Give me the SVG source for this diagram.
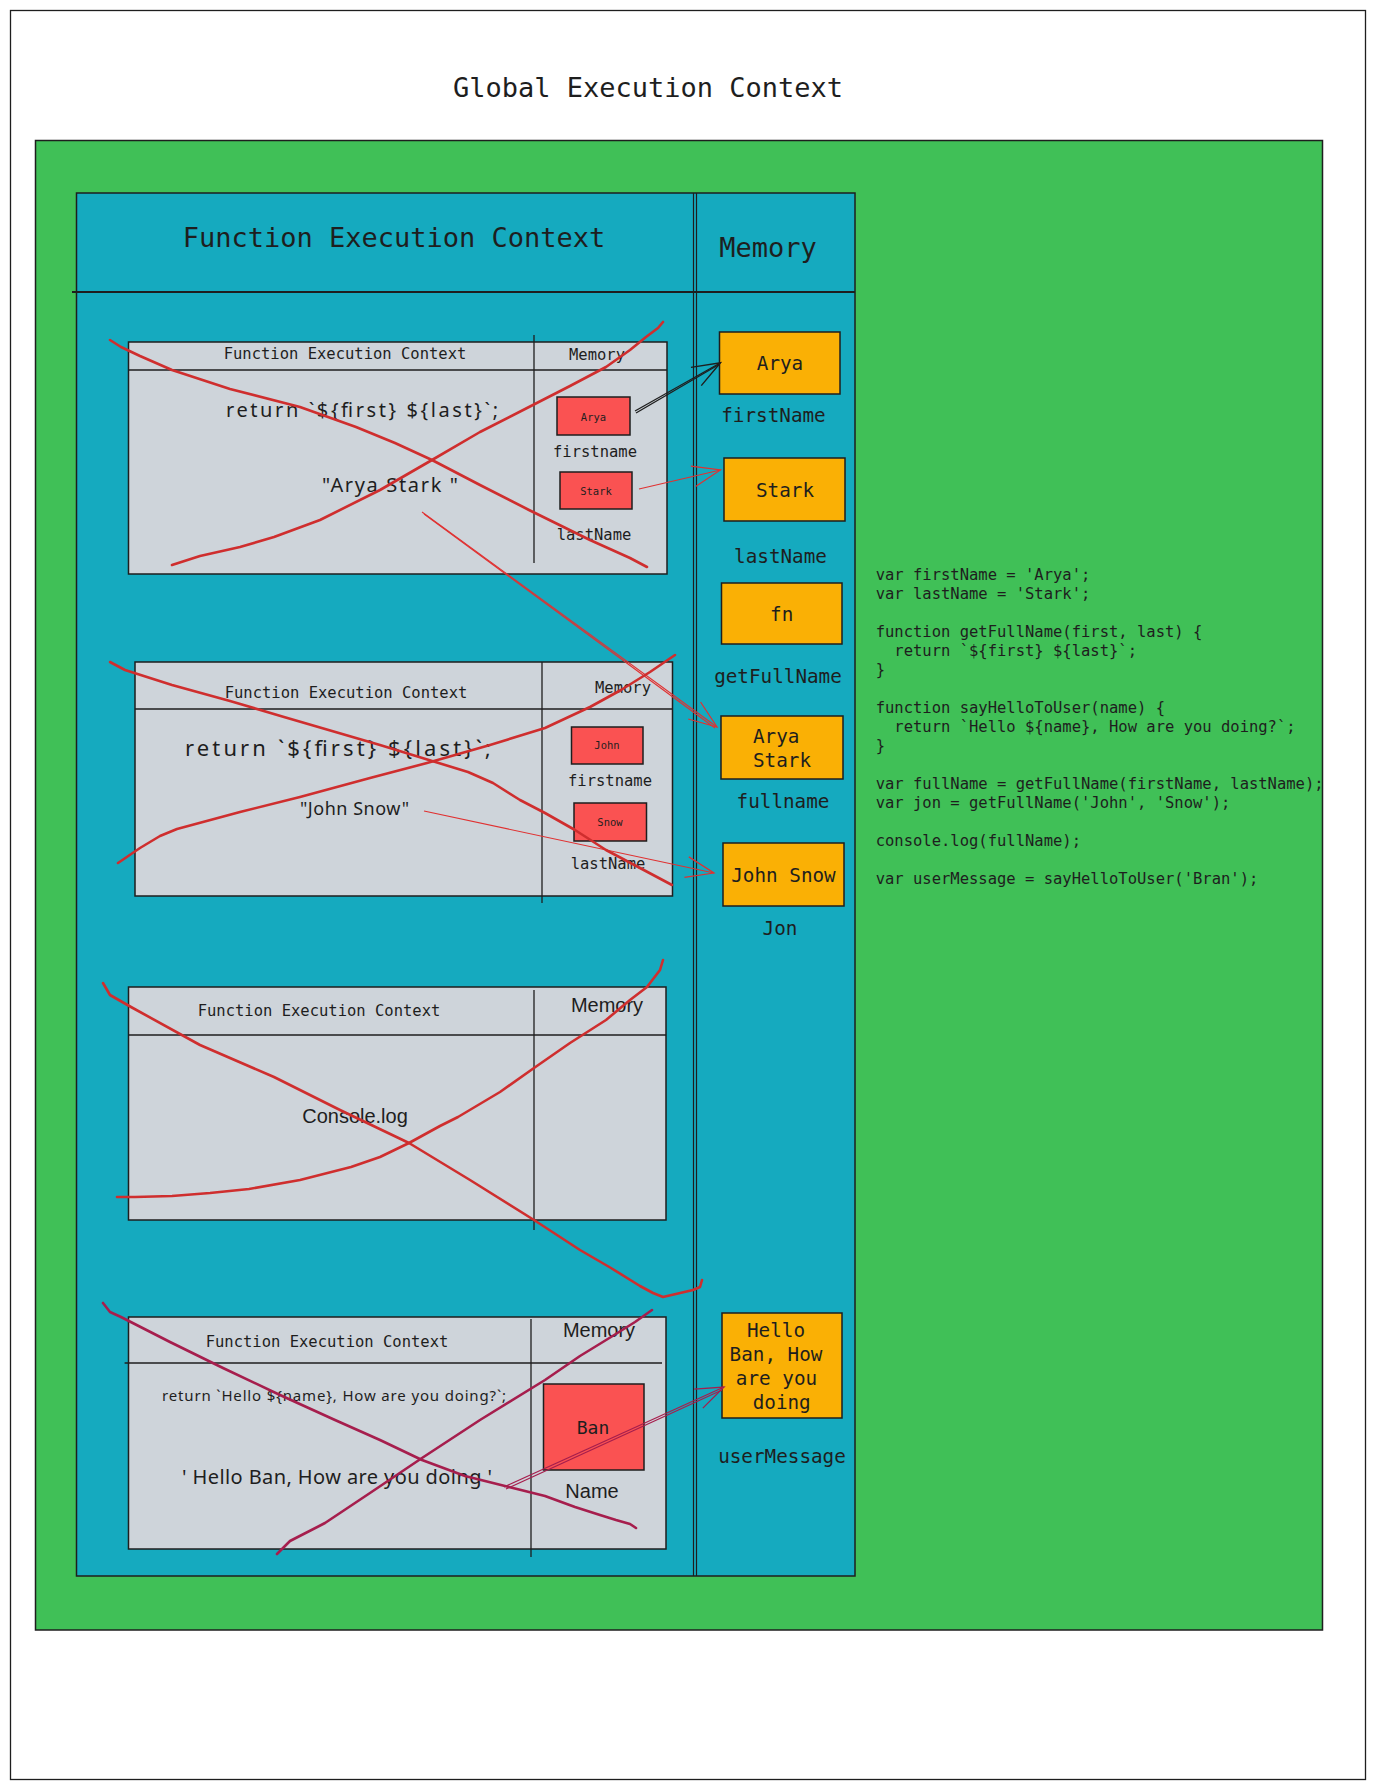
<svg xmlns="http://www.w3.org/2000/svg" width="1375" height="1791" viewBox="0 0 1375 1791">
<defs>
<style>
.mono{font-family:"DejaVu Sans Mono","Liberation Mono",monospace;fill:#1e1e1e}
.sans{font-family:"Liberation Sans",Arial,sans-serif;fill:#1e1e1e}
.hand{font-family:"Noto Sans","Liberation Sans",sans-serif;fill:#1e1e1e}
.mid{text-anchor:middle}
.box{stroke:#1e1e1e;stroke-width:1.5}
.thin{stroke:#1e1e1e;stroke-width:1.3;fill:none}
.gray{fill:#ced4da}
.redbox{fill:#fa5252}
.orange{fill:#fab005}
.strike{fill:none;stroke:#cf2e2e;stroke-width:2.6;stroke-linecap:round;stroke-linejoin:round}
.strike2{fill:none;stroke:#a61e4d;stroke-width:2.6;stroke-linecap:round;stroke-linejoin:round}
.arrow-black{fill:none;stroke:#1e1e1e;stroke-width:1.3}
.arrow-red{fill:none;stroke:#e03131;stroke-width:1.1}
.arrow-crimson{fill:none;stroke:#a61e4d;stroke-width:1.2}
</style>
<marker id="head-black" viewBox="-30 -13 32 26" markerWidth="32" markerHeight="26" refX="0" refY="0" orient="auto" markerUnits="userSpaceOnUse">
<path d="M-28,-10.5 L0,0 L-28,10.5" fill="none" stroke="#1e1e1e" stroke-width="1.4"/>
</marker>
<marker id="head-red" viewBox="-30 -13 32 26" markerWidth="32" markerHeight="26" refX="0" refY="0" orient="auto" markerUnits="userSpaceOnUse">
<path d="M-28,-10.5 L0,0 L-28,10.5" fill="none" stroke="#e03131" stroke-width="1.2"/>
</marker>
<marker id="head-crimson" viewBox="-30 -13 32 26" markerWidth="32" markerHeight="26" refX="0" refY="0" orient="auto" markerUnits="userSpaceOnUse">
<path d="M-28,-10.5 L0,0 L-28,10.5" fill="none" stroke="#a61e4d" stroke-width="1.3"/>
</marker>
</defs>

<rect x="0" y="0" width="1375" height="1791" fill="#ffffff"/>

<g id="global-execution-context">
<rect x="10.5" y="10.5" width="1355" height="1769" fill="#ffffff" stroke="#1e1e1e" stroke-width="1.3"/>
<text class="mono mid" x="648" y="97" font-size="27">Global Execution Context</text>
</g>

<g id="global-area">
<rect x="35.5" y="140.5" width="1287" height="1489.5" fill="#40c057" stroke="#1e1e1e" stroke-width="1.5"/>
</g>

<g id="function-execution-container">
<rect x="76.5" y="193" width="778.5" height="1383" fill="#15aabf" stroke="#1e1e1e" stroke-width="1.5"/>
<line x1="72" y1="292" x2="855" y2="292" stroke="#1e1e1e" stroke-width="2"/>
<line x1="693.5" y1="193" x2="693.5" y2="1576" stroke="#1e1e1e" stroke-width="1.2"/>
<line x1="696.5" y1="193" x2="696.5" y2="1576" stroke="#1e1e1e" stroke-width="1.2"/>
<text class="mono mid" x="394" y="247" font-size="27">Function Execution Context</text>
<text class="mono mid" x="768" y="257" font-size="27">Memory</text>
</g>

<g id="code">
<text class="mono" x="875.7" y="580" font-size="15.5" xml:space="preserve"><tspan x="875.7" y="580">var firstName = 'Arya';</tspan><tspan x="875.7" y="599">var lastName = 'Stark';</tspan><tspan x="875.7" y="637">function getFullName(first, last) {</tspan><tspan x="875.7" y="656">  return `${first} ${last}`;</tspan><tspan x="875.7" y="675">}</tspan><tspan x="875.7" y="713">function sayHelloToUser(name) {</tspan><tspan x="875.7" y="732">  return `Hello ${name}, How are you doing?`;</tspan><tspan x="875.7" y="751">}</tspan><tspan x="875.7" y="789">var fullName = getFullName(firstName, lastName);</tspan><tspan x="875.7" y="808">var jon = getFullName('John', 'Snow');</tspan><tspan x="875.7" y="846">console.log(fullName);</tspan><tspan x="875.7" y="884">var userMessage = sayHelloToUser('Bran');</tspan></text>
</g>

<g id="fec-1">
<rect class="box gray" x="128.5" y="342" width="538.5" height="232"/>
<line class="thin" x1="128.5" y1="370" x2="667" y2="370" stroke-width="2"/>
<line class="thin" x1="534" y1="335" x2="534" y2="563"/>
<text class="mono mid" x="345" y="359" font-size="15.5">Function Execution Context</text>
<text class="mono mid" x="597" y="360" font-size="15.5">Memory</text>
<text class="hand" x="226" y="417" font-size="20" textLength="272">return `${first} ${last}`;</text>
<text class="hand" x="322" y="492" font-size="20" textLength="136">"Arya Stark "</text>
<rect class="box redbox" x="557" y="397" width="73" height="38"/>
<text class="mono mid" x="593.5" y="420.5" font-size="10.5">Arya</text>
<text class="mono mid" x="595" y="457" font-size="15.5">firstname</text>
<rect class="box redbox" x="560" y="472" width="72" height="37"/>
<text class="mono mid" x="596" y="494.5" font-size="10.5">Stark</text>
<text class="mono mid" x="594" y="540" font-size="15.5">lastName</text>
</g>

<g id="fec-2">
<rect class="box gray" x="135" y="662" width="537.5" height="234"/>
<line class="thin" x1="135" y1="709" x2="672.5" y2="709" stroke-width="2"/>
<line class="thin" x1="542" y1="662" x2="542" y2="903"/>
<text class="mono mid" x="346" y="698" font-size="15.5">Function Execution Context</text>
<text class="mono mid" x="623" y="693" font-size="15.5">Memory</text>
<text class="hand" x="185" y="756" font-size="22" textLength="306">return `${first} ${last}`;</text>
<text class="hand" x="300" y="815" font-size="18" textLength="109">"John Snow"</text>
<rect class="box redbox" x="571.5" y="727" width="71.5" height="37"/>
<text class="mono mid" x="607" y="748.5" font-size="10.5">John</text>
<text class="mono mid" x="610" y="786" font-size="15.5">firstname</text>
<rect class="box redbox" x="574" y="803" width="72.5" height="38"/>
<text class="mono mid" x="610" y="825.5" font-size="10.5">Snow</text>
<text class="mono mid" x="608" y="869" font-size="15.5">lastName</text>
</g>

<g id="fec-3">
<rect class="box gray" x="128.5" y="987" width="537.5" height="233"/>
<line class="thin" x1="128.5" y1="1035" x2="666" y2="1035" stroke-width="2"/>
<line class="thin" x1="534" y1="990" x2="534" y2="1230"/>
<text class="mono mid" x="319" y="1016" font-size="15.5">Function Execution Context</text>
<text class="sans mid" x="607" y="1012" font-size="20">Memory</text>
<text class="sans mid" x="355" y="1123" font-size="20">Console.log</text>
</g>

<g id="fec-4">
<rect class="box gray" x="128.5" y="1317" width="537.5" height="232"/>
<line class="thin" x1="124.6" y1="1363" x2="662" y2="1363" stroke-width="2"/>
<line class="thin" x1="531" y1="1319" x2="531" y2="1557"/>
<text class="mono mid" x="327" y="1347" font-size="15.5">Function Execution Context</text>
<text class="sans mid" x="599" y="1337" font-size="20">Memory</text>
<text class="hand" x="162" y="1401" font-size="15" textLength="344">return `Hello ${name}, How are you doing?`;</text>
<text class="hand" x="182" y="1484" font-size="20" textLength="310">' Hello Ban, How are you doing '</text>
<rect class="box redbox" x="543.5" y="1384" width="100.5" height="86"/>
<text class="mono mid" x="593" y="1434" font-size="18">Ban</text>
<text class="sans mid" x="592" y="1498" font-size="20">Name</text>
</g>

<g id="mem-firstName">
<rect class="box orange" x="719.5" y="332" width="120.5" height="62"/>
<text class="mono mid" x="780" y="370" font-size="19.3">Arya</text>
<text class="mono mid" x="773.5" y="422" font-size="19.3">firstName</text>
</g>

<g id="mem-lastName">
<rect class="box orange" x="724" y="458" width="121" height="63"/>
<text class="mono mid" x="785" y="497" font-size="19.3">Stark</text>
<text class="mono mid" x="780.5" y="563" font-size="19.3">lastName</text>
</g>

<g id="mem-getFullName">
<rect class="box orange" x="721.5" y="583" width="120.5" height="61"/>
<text class="mono mid" x="781.7" y="621" font-size="19.3">fn</text>
<text class="mono mid" x="778" y="683" font-size="19.3">getFullName</text>
</g>

<g id="mem-fullname">
<rect class="box orange" x="721" y="716" width="122" height="63"/>
<text class="mono" x="753" y="743" font-size="19.3">Arya</text>
<text class="mono" x="753" y="767" font-size="19.3">Stark</text>
<text class="mono mid" x="783" y="808" font-size="19.3">fullname</text>
</g>

<g id="mem-jon">
<rect class="box orange" x="723" y="843" width="121" height="63"/>
<text class="mono mid" x="783.5" y="881.5" font-size="19.3">John Snow</text>
<text class="mono mid" x="780" y="935" font-size="19.3">Jon</text>
</g>

<g id="mem-userMessage">
<rect class="box orange" x="722" y="1313" width="120" height="105"/>
<text class="mono mid" x="776" y="1336.5" font-size="19.3">Hello</text>
<text class="mono mid" x="776" y="1360.5" font-size="19.3">Ban, How</text>
<text class="mono mid" x="776.5" y="1384.5" font-size="19.3">are you</text>
<text class="mono mid" x="781.7" y="1408.5" font-size="19.3">doing</text>
<text class="mono mid" x="782" y="1463" font-size="19.3">userMessage</text>
</g>

<g id="connectors">
<path class="arrow-black" d="M635,411 L720.5,362.7" marker-end="url(#head-black)"/>
<path class="arrow-black" d="M636,413 L719,364.5"/>
<path class="arrow-red" d="M639,489 L720.5,470" marker-end="url(#head-red)"/>
<path class="arrow-red" d="M422,512 L717,727" marker-end="url(#head-red)"/>
<path class="arrow-red" d="M424,514 L715,728"/>
<path class="arrow-red" d="M424,811 L714,873" marker-end="url(#head-red)"/>
<path class="arrow-crimson" d="M504,1487 L724,1387" marker-end="url(#head-crimson)"/>
<path class="arrow-crimson" d="M506,1489 L722,1390"/>
</g>

<g id="strikes">
<polyline class="strike" points="110,340 121,347 140,356 172,370 230,389 300,407 356,427 395,443 432,460 480,485 529,510 590,540 630,558 647,567"/>
<polyline class="strike" points="172,565 200,556 240,547 274,537 320,520 380,490 432,460 480,432 529,407 570,386 606,367 630,350 646,337 658,328 663,322"/>
<polyline class="strike" points="110,662 125,670 172,685 230,701 284,717 380,745 468,772 493,783 520,800 545,813 575,830 606,850 640,868 672,885"/>
<polyline class="strike" points="118,863 140,848 160,836 177,829 240,812 300,797 370,778 427,763 490,745 545,728 590,707 621,690 650,672 675,655"/>
<polyline class="strike" points="103,983 110,995 131,1007 200,1045 274,1077 340,1110 409,1143 470,1180 534,1220 580,1250 611,1268 640,1286 653,1293 663,1297 693,1290 700,1287 702,1280"/>
<polyline class="strike" points="117,1197 135,1197 172,1196 210,1193 249,1189 300,1180 351,1167 380,1157 409,1143 440,1126 458,1117 500,1092 534,1068 570,1043 606,1020 630,1000 647,987 660,970 663,960"/>
<polyline class="strike2" points="103,1303 110,1312 121,1317 170,1342 223,1368 280,1395 335,1420 380,1440 422,1460 465,1476 509,1487 545,1496 575,1507 600,1515 616,1520 630,1524 636,1528"/>
<polyline class="strike2" points="277,1554 290,1541 325,1523 370,1493 422,1458 480,1420 545,1380 580,1356 611,1337 635,1322 652,1310"/>
</g>
</svg>
